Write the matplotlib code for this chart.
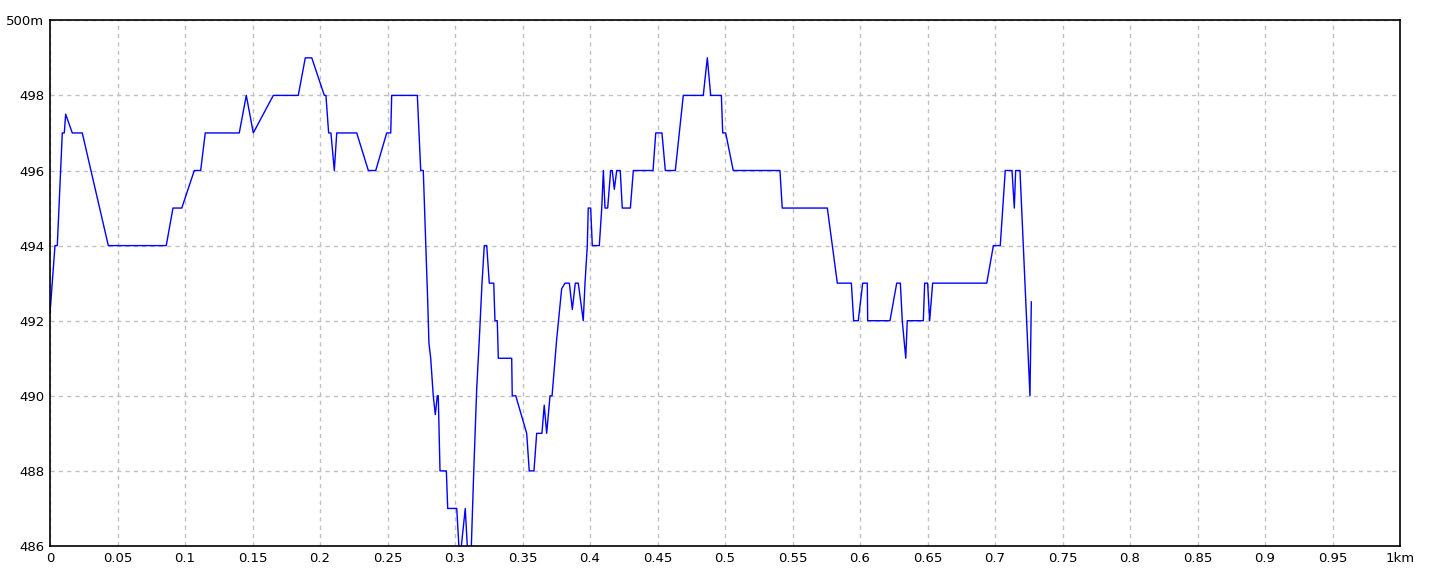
import matplotlib
matplotlib.use("Agg")
import matplotlib.pyplot as plt
from matplotlib.ticker import MultipleLocator, FuncFormatter

# 距離 (km) と標高 (m)
dist_km = [
    0.0000, 0.0037, 0.0054, 0.0091, 0.0106, 0.0116, 0.0165, 0.0239, 0.0432, 0.0861,
    0.0911, 0.0976, 0.1069, 0.1116, 0.1150, 0.1402, 0.1454, 0.1506, 0.1654, 0.1839,
    0.1891, 0.1939, 0.2032, 0.2044, 0.2064, 0.2081, 0.2106, 0.2124, 0.2272, 0.2358,
    0.2413, 0.2494, 0.2524, 0.2531, 0.2721, 0.2746, 0.2765, 0.2798, 0.2807, 0.2820,
    0.2839, 0.2854, 0.2869, 0.2876, 0.2889, 0.2936, 0.2946, 0.3013, 0.3035, 0.3047,
    0.3076, 0.3091, 0.3106, 0.3121, 0.3139, 0.3161, 0.3180, 0.3200, 0.3217, 0.3235,
    0.3254, 0.3287, 0.3296, 0.3313, 0.3321, 0.3420, 0.3424, 0.3450, 0.3531, 0.3550,
    0.3585, 0.3605, 0.3644, 0.3661, 0.3679, 0.3704, 0.3719, 0.3753, 0.3790, 0.3815,
    0.3847, 0.3869, 0.3891, 0.3913, 0.3950, 0.3963, 0.3980, 0.3987, 0.4005, 0.4017,
    0.4069, 0.4087, 0.4099, 0.4111, 0.4131, 0.4153, 0.4165, 0.4180, 0.4198, 0.4224,
    0.4239, 0.4299, 0.4321, 0.4467, 0.4487, 0.4533, 0.4558, 0.4632, 0.4691, 0.4839,
    0.4869, 0.4894, 0.4973, 0.4983, 0.5005, 0.5061, 0.5407, 0.5424, 0.5758, 0.5832,
    0.5936, 0.5953, 0.5987, 0.6020, 0.6054, 0.6057, 0.6222, 0.6272, 0.6299, 0.6313,
    0.6339, 0.6350, 0.6469, 0.6479, 0.6501, 0.6516, 0.6538, 0.6939, 0.6988, 0.7039,
    0.7076, 0.7126, 0.7143, 0.7153, 0.7185, 0.7259, 0.7269,
]
elev_m = [
    492.2, 494.0, 494.0, 497.0, 497.0, 497.5, 497.0, 497.0, 494.0, 494.0,
    495.0, 495.0, 496.0, 496.0, 497.0, 497.0, 498.0, 497.0, 498.0, 498.0,
    499.0, 499.0, 498.0, 498.0, 497.0, 497.0, 496.0, 497.0, 497.0, 496.0,
    496.0, 497.0, 497.0, 498.0, 498.0, 496.0, 496.0, 492.5, 491.4, 491.0,
    490.0, 489.5, 490.0, 490.0, 488.0, 488.0, 487.0, 487.0, 485.6, 486.0,
    487.0, 486.0, 485.6, 486.0, 488.0, 490.2, 491.5, 493.0, 494.0, 494.0,
    493.0, 493.0, 492.0, 492.0, 491.0, 491.0, 490.0, 490.0, 489.0, 488.0,
    488.0, 489.0, 489.0, 489.75, 489.0, 490.0, 490.0, 491.5, 492.85, 493.0,
    493.0, 492.3, 493.0, 493.0, 492.0, 493.0, 494.0, 495.0, 495.0, 494.0,
    494.0, 495.0, 496.0, 495.0, 495.0, 496.0, 496.0, 495.5, 496.0, 496.0,
    495.0, 495.0, 496.0, 496.0, 497.0, 497.0, 496.0, 496.0, 498.0, 498.0,
    499.0, 498.0, 498.0, 497.0, 497.0, 496.0, 496.0, 495.0, 495.0, 493.0,
    493.0, 492.0, 492.0, 493.0, 493.0, 492.0, 492.0, 493.0, 493.0, 492.0,
    491.0, 492.0, 492.0, 493.0, 493.0, 492.0, 493.0, 493.0, 494.0, 494.0,
    496.0, 496.0, 495.0, 496.0, 496.0, 490.0, 492.5,
]

fig = plt.figure(figsize=(14.4, 5.76), dpi=100)
ax = fig.add_axes([50 / 1440, 1 - 546 / 576, 1350 / 1440, 525.7 / 576])

ax.plot(dist_km, elev_m, color="#0000ff", linewidth=1.0)

ax.set_xlim(0, 1)
ax.set_ylim(486, 500)
ax.xaxis.set_major_locator(MultipleLocator(0.05))
ax.yaxis.set_major_locator(MultipleLocator(2))


def fmt_x(v, pos):
    if abs(v - 1) < 1e-9:
        return "1km"
    return f"{v:.2f}".rstrip("0").rstrip(".")


def fmt_y(v, pos):
    if abs(v - 500) < 1e-9:
        return "500m"
    return f"{v:.0f}"


ax.xaxis.set_major_formatter(FuncFormatter(fmt_x))
ax.yaxis.set_major_formatter(FuncFormatter(fmt_y))
ax.tick_params(length=0, pad=4, labelsize=9.5, labelcolor="black")
for lbl in ax.get_xticklabels() + ax.get_yticklabels():
    lbl.set_family(["Liberation Sans Narrow", "DejaVu Sans"])

ax.grid(True, color="#c0c0c0", linestyle=(0, (3, 3)), linewidth=1.0)
ax.set_axisbelow(True)
for s in ax.spines.values():
    s.set_color("black")
    s.set_linewidth(1.2)

fig.savefig("out.png", dpi=100, facecolor="white")
